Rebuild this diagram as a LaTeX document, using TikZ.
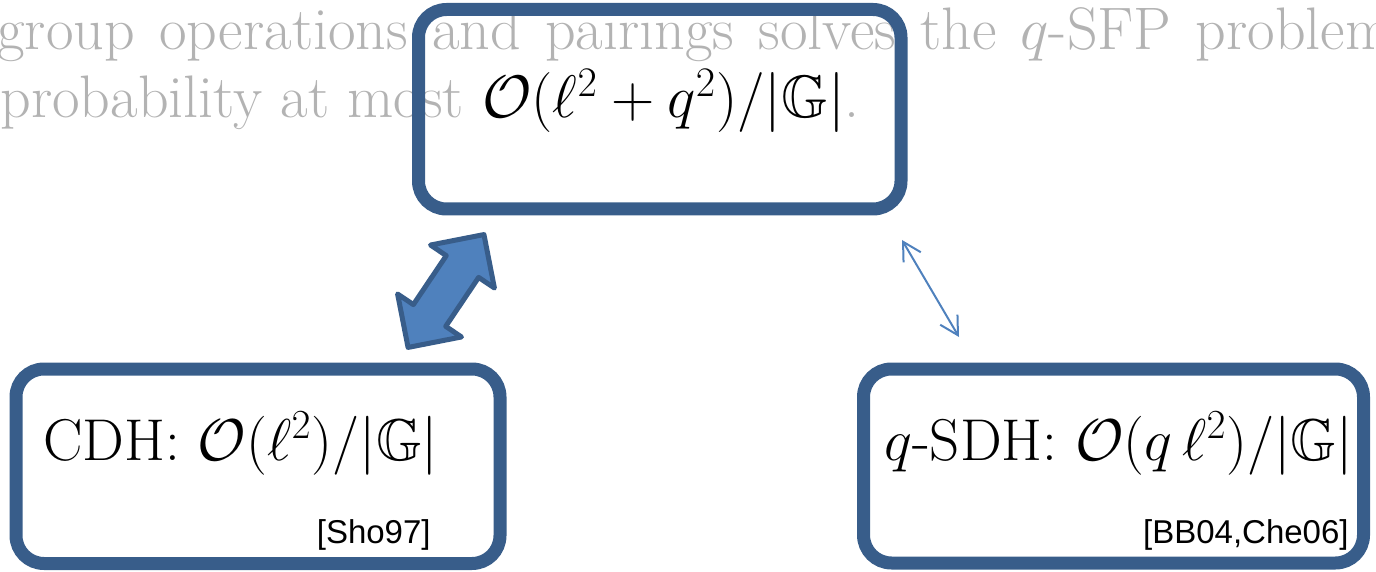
\documentclass[tikz,border=0pt]{standalone}
\usepackage{fix-cm}
\usepackage{amsmath}
\usepackage{amssymb}
\usepackage{fontspec}
\newfontfamily\refsans{Liberation Sans}
\usetikzlibrary{
  arrows.meta,
  calc,
  shapes.arrows
}

\definecolor{boxblue}{HTML}{385D8A}
\definecolor{arrowblue}{HTML}{4F81BD}
\definecolor{textgray}{HTML}{B3B3B3}

\tikzset{
  bigtext/.style={font=\fontsize{30}{36}\selectfont, inner sep=0pt, anchor=base west},
  boxtext/.style={bigtext, font=\fontsize{29.5}{35}\selectfont},
  reftext/.style={font=\refsans\fontsize{16.5}{20}\selectfont, inner sep=0pt, anchor=base east},
  resultbox/.style={rectangle, draw=boxblue, line width=6.5pt, rounded corners=14pt,
    inner sep=0pt, outer sep=0pt},
  bigarrow/.style={double arrow, draw=boxblue, fill=arrowblue, line width=2.5pt, line join=round,
    inner xsep=0pt, inner ysep=8.5pt, minimum height=68pt, double arrow head extend=9.5pt},
  thinarrow/.style={draw=arrowblue, line width=1pt, <->, >={Straight Barb[length=9pt,width=10pt]}}
}

\begin{document}
\begin{tikzpicture}[x=0.5pt, y=-0.5pt]
  \useasboundingbox (0,0) rectangle (1376,572);
  \clip (0,0) rectangle (1376,572);

  % statement behind the boxes
  \node[bigtext, text=textgray] (lineone) at (-3,50)
    {\makebox[697pt][s]{group operations and pairings solves the $q$-SFP problem}};
  \node[bigtext, text=textgray] (linetwo) at (0,118)
    {probability at most \textcolor{black}{$\mathcal{O}(\ell^2+q^2)/|\mathbb{G}|$}.};

  % boxes
  \node[resultbox, minimum width=241.25pt, minimum height=99.75pt] (sfp) at (659.75,109.25) {};
  \node[resultbox, minimum width=242pt, minimum height=97.25pt] (cdh) at (258,466.25) {};
  \node[resultbox, minimum width=250pt, minimum height=97pt] (sdh) at (1113.5,466) {};

  \node[boxtext] (cdhtext) at ($(cdh.north west)+(27,91)$) {CDH: $\mathcal{O}(\ell^2)/|\mathbb{G}|$};
  \node[boxtext] (sdhtext) at ($(sdh.north west)+(20.5,91)$) {$q$-SDH: $\mathcal{O}(q\,\ell^2)/|\mathbb{G}|$};
  \node[reftext] (cdhref) at ($(cdh.south east)+(-69,-20.5)$) {[Sho97]};
  \node[reftext] (sdhref) at ($(sdh.south east)+(-14.5,-20)$) {[BB04,Che06]};

  % reductions
  \coordinate (thicklo) at ($(cdh.north west)+(391,-20)$);
  \coordinate (thickhi) at ($(sfp.south west)+(66.5,24)$);
  \path (thicklo) -- node[bigarrow, sloped] (thick) {} (thickhi);

  \coordinate (thinhi) at ($(sfp.south east)+(1,31)$);
  \coordinate (thinlo) at ($(sdh.north west)+(95.5,-32)$);
  \draw[thinarrow] (thinhi) -- (thinlo);
\end{tikzpicture}
\end{document}
